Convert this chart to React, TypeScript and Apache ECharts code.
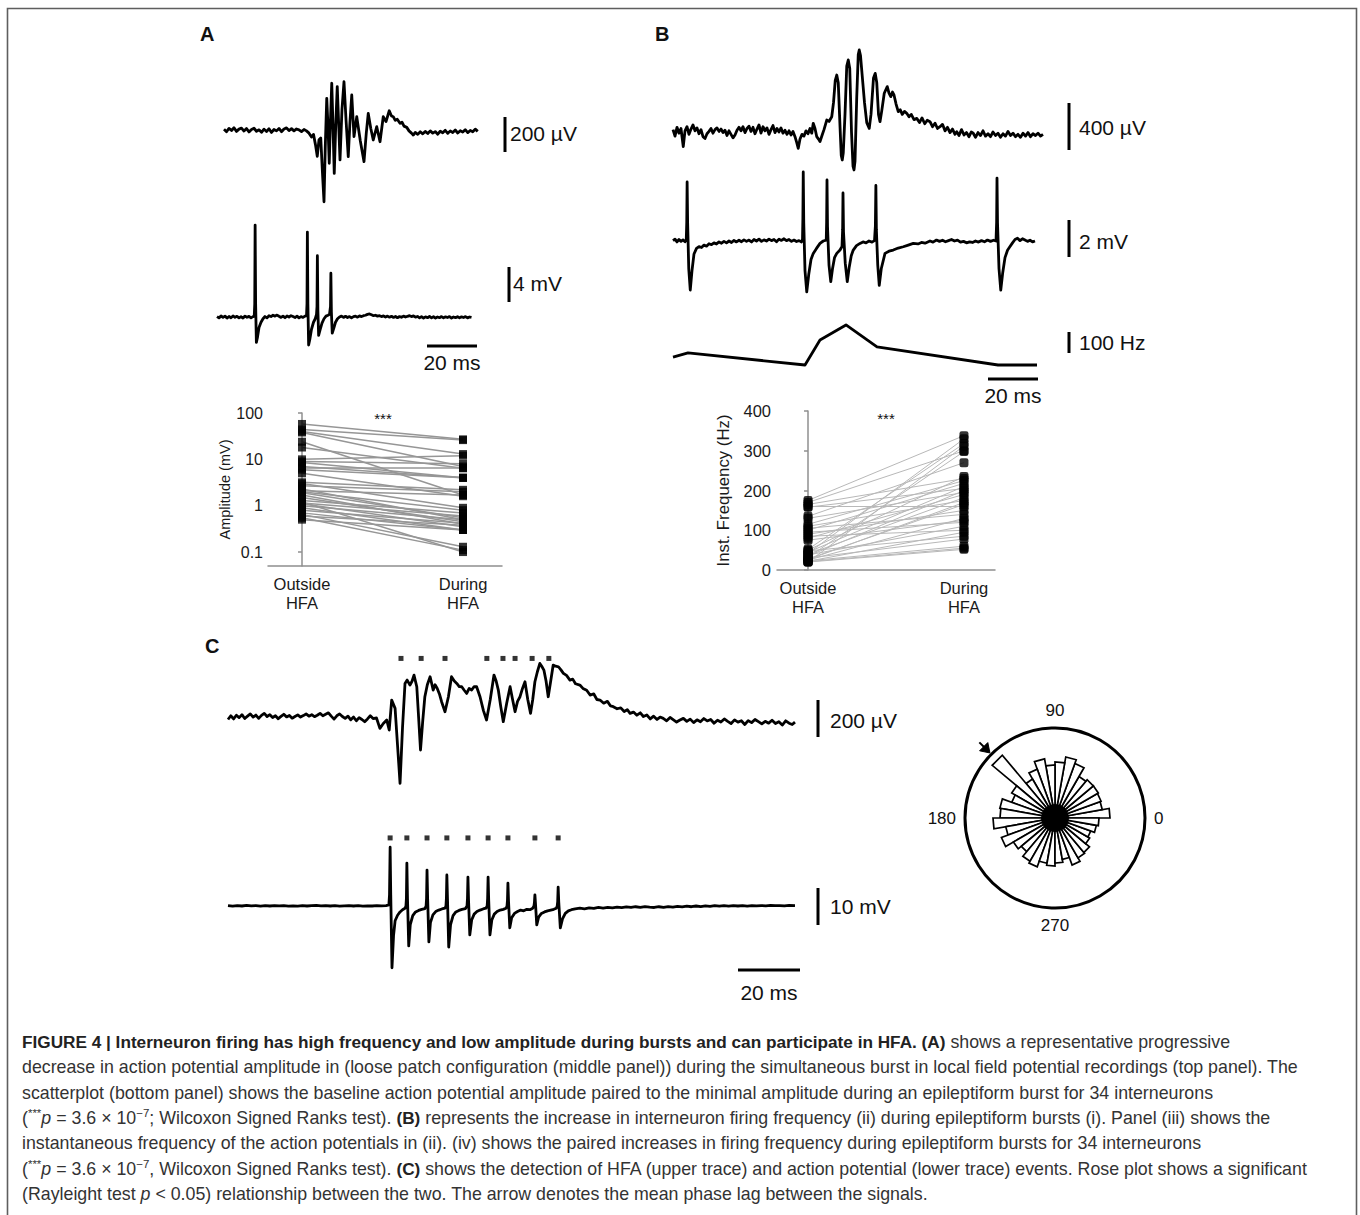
import React, { useEffect, useRef } from 'react';
import * as echarts from 'echarts';

// ---------- DATA ----------
// Panel A (i) LFP, [ms, µV]
const lfpA: number[][] = [
  [0,4],[1,-10],[2,9],[3,-3],[4,13],[5,-8],[6,5],[7,11],[8,-6],[9,8],[10,-11],[11,3],[12,10],[13,-7],[14,1],[15,-13],[16,5],[17,-9],[18,7],[19,-14],[20,3],[21,-5],[22,9],[23,-10],[24,6],[25,12],[26,-3],[27,8],[28,-5],[29,6],[30,1],[31,-9],[32,3],[33,-5],
  [34,-18],[35,-40],[35.8,-25],[36.6,-85],[37.3,-150],[38,-55],[38.7,-45],[39.4,-250],[40,-410],[40.5,-100],[41.1,181],[41.6,20],[42.1,-190],[42.6,60],[43.1,267],[43.6,20],[44.1,-248],[44.7,30],[45.3,248],[45.8,60],[46.4,-171],[47.2,120],[48,276],[48.8,60],[49.7,-152],[50.4,50],[51.1,200],[52,-38],[53.1,76],[54.5,-60],[56,-181],[56.9,-20],[57.7,95],[58.7,10],[59.7,-57],[61.1,19],[62.4,-67],[63.7,76],[64.8,48],[66.1,110],[67,80],[67.7,76],[68.5,55],[69.3,62],[70.4,38],[71.2,45],[72,22],[73.1,15],[74,-5],[75,-18],[75.7,-29],
  [76.5,-14],[77.5,-25],[78.5,-10],[79.5,-22],[80.5,-8],[81.5,-20],[82.5,-5],[83.5,-18],[84.5,-9],[85.5,-24],[86.5,-7],[87.5,-16],[88.5,-2],[89.5,-19],[90.5,-6],[91.5,-14],[92.5,0],[93.5,-17],[94.5,-4],[95.5,-12],[96.5,2],[97.5,-15],[98.5,-3],[99.5,-10],[100.5,5],[101.5,-8]
];
// Panel A (ii) loose-patch spikes, [ms, mV]
const spikeA: number[][] = [
  [0,0.05],[0.8,-0.1],[1.6,0.12],[2.4,-0.05],[3.2,0.1],[4,-0.12],[4.8,0.06],[5.6,-0.08],[6.4,0.12],[7.2,-0.04],[8,0.08],[8.8,-0.1],[9.6,0.03],[10.4,-0.12],[11.2,0.1],[12,-0.03],[12.8,0.07],[13.6,-0.1],[14.4,0.04],[14.9,0.1],
  [15.1,1.5],[15.25,10.5],[15.45,1.5],[15.75,-2.9],[16.2,-2.3],[16.8,-1.2],[17.6,-0.6],[18.4,-0.2],[19.2,0.05],[20,-0.1],[20.8,0.15],[21.6,0.05],[22.4,0.2],[23.2,0.1],[24,0.22],[24.8,0.08],[25.6,-0.05],[26.4,0.1],[27.2,-0.08],[28,0.12],[28.8,0],[29.6,0.15],[30.4,0.05],[31.2,-0.06],[32,0.1],[32.8,-0.1],[33.6,0.05],[34.4,-0.05],[35.2,0.1],[35.8,0.15],
  [36,1.5],[36.15,9.7],[36.35,1.5],[36.65,-3.2],[37.1,-2.6],[37.8,-1.4],[38.6,-0.6],[39.3,-0.2],[39.8,0.3],[40,1.2],[40.15,7.0],[40.35,0.8],[40.65,-2.1],[41.2,-1.5],[42,-0.7],[42.8,-0.2],[43.6,0.1],[44.4,0.2],[45,0.3],[45.4,1.2],[45.55,5.0],[45.75,0.6],[46.1,-1.85],[46.7,-1.3],[47.4,-0.6],[48.2,-0.2],[49,0],[49.8,0.1],
  [50.6,-0.05],[51.4,0.08],[52.2,-0.06],[53,0.05],[53.8,-0.1],[54.6,0.04],[55.4,0.1],[56.2,-0.02],[57,0.12],[57.8,0.05],[58.6,0.15],[59.4,0.2],[60.2,0.3],[61,0.35],[61.8,0.25],[62.6,0.15],[63.4,0.2],[64.2,0.1],[65,0.15],[65.8,0.05],[66.6,0.12],[67.4,0],[68.2,0.1],[69,-0.02],[69.8,0.08],[70.6,-0.05],[71.4,0.06],[72.2,-0.08],[73,0.05],[73.8,-0.03],[74.6,0.1],[75.4,0],[76.2,0.08],[77,0.15],[77.8,0.05],[78.6,0.12],[79.4,-0.02],[80.2,0.06],[81,-0.1],[81.8,0.04],[82.6,-0.12],[83.4,0.02],[84.2,-0.08],[85,0.06],[85.8,-0.1],[86.6,0.03],[87.4,-0.12],[88.2,0],[89,-0.08],[89.8,0.05],[90.6,-0.1],[91.4,0.02],[92.2,-0.06],[93,0.05],[93.8,-0.12],[94.6,0],[95.4,-0.08],[96.2,0.04],[97,-0.1],[97.8,0.02],[98.6,-0.06],[99.4,0.04],[100.2,-0.1],[101,0],[101.8,-0.05]
];
// Panel B (i) LFP, [ms, µV]
const lfpB: number[][] = [
  [0,20],[0.8,-35],[1.6,40],[2.4,-10],[3.2,30],[4.1,-125],[4.8,10],[5.6,45],[6.4,-20],[7.2,25],[8,60],[8.8,10],[9.6,35],[10.4,-15],[11.2,20],[12,-40],[12.8,-55],[13.6,-15],[14.4,5],[15.2,30],[16,-10],[16.8,20],[17.6,35],[18.4,5],[19.2,25],[20,-5],[20.8,15],[21.6,-30],[22.4,10],[23.2,-20],[24,-50],[24.8,-25],[25.6,15],[26.4,40],[27.2,10],[28,45],[28.8,-5],[29.6,30],[30.4,50],[31.2,5],[32,40],[32.8,-15],[33.6,25],[34.4,60],[35.2,-10],[36,45],[36.8,10],[37.6,35],[38.4,-20],[39.2,20],[40,55],[40.8,-5],[41.6,30],[42.4,0],[43.2,35],[44,-10],[44.8,15],[45.6,-20],[46.4,10],[47.2,-25],[48,5],[48.8,-40],[49.5,-90],[50.1,-139],[50.8,-60],[51.6,-20],[52.4,-35],[53.2,10],[54,-15],[54.8,30],[55.5,-10],[56.1,74],[56.8,30],[57.5,-40],[58.2,-60],[58.8,-82],[59.6,-30],[60.4,20],[61.5,102],[62.4,90],[63.5,130],
  [64.2,250],[64.9,440],[65.5,485],[66.1,420],[66.8,50],[67.3,-200],[67.7,-238],[68.1,-180],[68.8,150],[69.5,560],[70.1,613],[70.7,540],[71.4,0],[72,-290],[72.4,-323],[72.8,-250],[73.5,300],[74.1,660],[74.5,698],[75,650],[75.6,500],[76.6,250],[77.5,80],[78.5,31],[79.2,150],[80.2,460],[80.9,499],[81.5,420],[82.2,150],[82.8,88],[83.5,180],[84.5,330],[85.7,386],[86.4,330],[87.1,301],[87.8,340],[88.4,315],[89.2,240],[90.1,173],[90.9,190],[91.7,150],[92.6,175],[93.5,159],[94.4,130],[95.3,150],[96.4,105],[97.5,116],[98.6,80],[99.6,120],[100.7,70],[101.7,100],[102.8,88],[103.8,45],[104.8,75],[105.8,30],[106.8,45],[107.8,65],[108.8,10],[109.8,40],[110.8,-5],[111.8,25],[112.8,-20],[113.5,3],[114.4,-30],[115.4,20],[116.4,-25],[117.4,-5],[118.4,-40],[119.3,0],[120.1,-11],
  [121,-45],[122,-5],[123,-30],[124,10],[125,-35],[126,-15],[127,-40],[128,0],[129,-30],[130,-10],[131,-45],[132,-15],[133,-35],[134,5],[135,-30],[136,-10],[137,-40],[138,-20],[139,-45],[140,-10],[141,-35],[142,-5],[143,-40],[144,-15],[145,-30],[146,-10],[147,-35],[148,-20]
];
// Panel B (ii) spikes, [ms, mV]
const spikeB: number[][] = [
  [0,0.02],[0.8,0.1],[1.6,-0.05],[2.4,0.08],[3.2,-0.02],[4,0.06],[4.8,-0.04],[5.3,0.05],[5.5,1.0],[5.65,3.19],[5.85,1.0],[6.3,-1.5],[6.9,-2.65],[7.6,-1.6],[8.4,-0.7],[9.4,-0.4],[10.4,-0.3],[11.4,-0.35],[12.4,-0.22],[13.4,-0.28],[14.4,-0.15],[15.4,-0.2],[16.4,-0.1],[17.4,-0.16],[18.4,-0.05],[19.4,-0.12],[20.4,-0.02],[21.4,-0.1],[22.4,0],[23.4,-0.08],[24.4,0.03],[25.4,-0.05],[26.4,0.04],[27.4,-0.04],[28.4,0.06],[29.4,-0.02],[30.4,0.05],[31.4,-0.05],[32.4,0.08],[33.4,0],[34.4,0.1],[35.4,-0.02],[36.4,0.06],[37.4,0],[38.4,0.1],[39.4,0.02],[40.4,0.08],[41.4,-0.04],[42.4,0.1],[43.4,0.03],[44.4,0.12],[45.4,0.02],[46.4,0.08],[47.4,-0.02],[48.4,0.05],[49.4,-0.03],[50.4,0.02],[51.4,-0.05],[51.8,0.1],
  [51.95,1.2],[52.1,3.73],[52.3,1.0],[52.8,-1.6],[53.5,-2.75],[54.3,-1.8],[55.2,-1.0],[56.1,-0.67],[57.4,-0.4],[58.8,-0.13],[60.1,0],[61.3,0.05],[61.45,1.0],[61.6,3.3],[61.8,0.8],[62.4,-1.3],[63.1,-2.2],[63.8,-1.5],[64.6,-0.9],[65.5,-0.67],[66.8,-0.49],[67.6,-0.3],[67.85,0.6],[68,2.6],[68.2,0.5],[68.9,-1.2],[69.7,-2.2],[70.5,-1.4],[71.3,-0.8],[72.1,-0.49],[73.4,-0.25],[74.8,-0.13],[76,-0.05],[77.2,-0.1],[78.4,0],[79.6,-0.06],[80.6,0.02],[80.95,0.8],[81.15,3.0],[81.35,0.6],[81.9,-1.3],[82.5,-2.4],[83.3,-1.5],[84.8,-0.67],[86.4,-0.55],[88.1,-0.49],[90.1,-0.38],[92.1,-0.31],[94.1,-0.22],[96.1,-0.13],[98,-0.16],[99.4,-0.08],[100.8,-0.12],[102.8,0],[104,-0.06],[105.4,0.05],[106.6,-0.02],[107.8,0.04],[109,-0.04],[110.2,0.02],[111.4,0.08],[112.6,0],[113.8,0.05],[115,-0.06],[116.2,-0.02],[117.4,-0.1],[118.6,-0.05],[119.8,-0.08],[121,0],[122.2,-0.06],[123.4,0.02],[124.6,-0.04],[125.8,0.05],[127,-0.02],[128.2,0.04],[129.2,0],
  [129.45,1.0],[129.6,3.4],[129.8,1.0],[130.4,-1.5],[131.1,-2.65],[131.9,-1.7],[132.8,-0.9],[133.8,-0.5],[134.8,-0.3],[135.8,-0.1],[136.8,0.08],[137.8,0.15],[138.8,0.02],[139.8,0.12],[140.8,0.05],[141.8,-0.02],[142.8,0.04],[143.8,-0.05],[144.8,0]
];
// Panel B (iii) instantaneous frequency, [ms, Hz]
const freqB: number[][] = [[0,56],[6,75],[52.8,20],[58.8,134],[69.2,202],[81.6,102],[130,20],[145.6,20]];

// Panel C upper LFP, [ms, µV]
const lfpC: number[][] = [
  [0,-8],[0.9,12],[1.8,-5],[2.7,15],[3.6,2],[4.5,18],[5.4,-3],[6.3,10],[7.2,22],[8.1,5],[9,16],[9.9,-2],[10.8,14],[11.7,25],[12.6,8],[13.5,18],[14.4,3],[15.3,12],[16.2,-4],[17.1,9],[18,20],[18.9,6],[19.8,14],[20.7,-1],[21.6,8],[22.5,17],[23.4,5],[24.3,13],[25.2,22],[26.1,10],[27,18],[27.9,7],[28.8,15],[29.7,25],[30.6,12],[31.5,20],[32.4,28],[33.3,10],[34.2,-6],[35.1,12],[36,22],[36.9,8],[37.8,-2],[38.7,10],[39.6,-10],[40.5,5],[41.4,-15],[42.3,2],[43.2,-8],[44.1,-20],[45,-5],[45.9,12],[46.8,-3],[47.9,0],
  [49,-56],[50.1,-30],[51.2,-11],[52,-65],[52.8,97],[53.9,52],[54.7,-150],[55.5,-353],[56.3,-50],[57.1,187],[57.8,205],[58.7,178],[59.4,200],[60,232],[60.9,169],[61.5,0],[62.1,-173],[62.8,-20],[63.5,115],[64.3,180],[65.2,223],[66.2,151],[66.8,180],[67.5,160],[68.2,130],[68.9,88],[70,34],[71.1,115],[72.1,223],[73,200],[73.8,187],[74.6,170],[75.4,169],[76.2,150],[77,133],[77.8,160],[78.6,151],[79.4,170],[80.2,169],[81.3,115],[82.4,40],[83.4,-11],[84.6,100],[85.8,232],[86.5,200],[87.2,151],[88,60],[88.8,-20],[89.9,80],[91,169],[91.8,100],[92.6,34],[93.4,90],[94.2,115],[95,160],[95.8,196],[96.7,100],[97.6,25],[98.3,100],[99,196],[99.8,250],[100.6,295],[101.2,280],[101.9,259],[102.6,200],[103.3,115],[104.1,200],[104.9,286],[105.7,280],[106.6,277],[107.4,260],[108.2,241],[109.2,230],[110.3,205],[111.2,210],[112.1,185],[113.5,178],[114.5,160],[115.7,150],[116.8,124],[118,130],[119,100],[120,97],[121.2,80],[122.4,90],[123.4,65],[124.3,61],[125.5,50],[126.7,55],[127.8,35],[128.8,45],[129.7,25],[130.8,32],[131.9,15],[133,28],[134,8],[135.1,16],[136.2,-5],[137.3,10],[138.4,-8],[139.4,5],[140.4,-2],[141.5,-15],[142.6,3],[143.7,-10],[144.7,-22],[145.8,-11],[146.9,-2],[148,-18],[149.1,-6],[150.2,-25],[151.3,-10],[152.4,-20],[153.5,-3],[154.6,-16],[155.7,-8],[156.8,-28],[157.9,-12],[159,-22],[160.1,-5],[161.2,-18],[162.3,-30],[163.4,-10],[164.5,-22],[165.6,-15],[166.7,-35],[167.8,-14],[168.9,-25],[170,-8],[171.1,-20],[172.2,-32],[173.3,-18],[174.4,-28],[175.5,-12],[176.6,-30],[177.7,-20],[178.8,-38],[179.9,-15],[181,-28],[182,-35],[182.9,-22]
];
// HFA event times (upper trace dots), ms
const hfaEvents: number[] = [55.8, 62.3, 70.0, 83.5, 88.7, 92.6, 98.1, 103.5];
// Panel C lower spikes, [ms, mV]
const spikeC: number[][] = [
  [0,0.1],[1.5,-0.05],[3,0.12],[4.5,0],[6,0.15],[7.5,0.05],[9,0.1],[10.5,-0.05],[12,0.08],[13.5,0],[15,0.12],[16.5,0.02],[18,0.1],[19.5,-0.06],[21,0.05],[22.5,-0.02],[24,0.1],[25.5,0],[27,0.12],[28.5,0.18],[30,0.05],[31.5,0.12],[33,0],[34.5,0.08],[36,-0.04],[37.5,0.05],[39,0.1],[40.5,0],[42,0.08],[43.5,-0.05],[45,0.06],[46.5,0],[48,0.1],[49.5,0.05],[51,0.12],[51.9,0.3],
  [52.1,3],[52.3,15.9],[52.5,3],[52.9,-16.7],[53.4,-8],[53.9,-4],[54.7,-2.5],[55.5,-1.6],[56.3,-1.0],[57.1,-0.6],[57.4,0],
  [57.55,2],[57.7,11.6],[57.9,2],[58.3,-10.8],[58.8,-5],[59.6,-2.6],[60.5,-1.6],[61.5,-1.2],[62.5,-0.9],[63.5,-0.7],[63.9,0],
  [64.05,2],[64.2,9.7],[64.4,2],[64.8,-9.7],[65.3,-4.5],[66.1,-2.4],[67,-1.5],[68,-1.1],[69,-0.8],[70,-0.6],[70.3,0],
  [70.45,2],[70.6,8.4],[70.8,2],[71.2,-11.1],[71.8,-5],[72.6,-2.6],[73.5,-1.6],[74.5,-1.2],[75.5,-0.9],[76.6,-0.7],[77.1,0],
  [77.25,2],[77.4,7.8],[77.6,1.5],[78,-7.8],[78.6,-3.8],[79.4,-2.2],[80.3,-1.5],[81.3,-1.1],[82.3,-0.8],[83.2,-0.6],[83.6,0],
  [83.75,2],[83.9,7.8],[84.1,1.5],[84.5,-7.8],[85.1,-3.8],[85.9,-2.2],[86.8,-1.5],[87.8,-1.1],[88.8,-0.9],[89.7,-0.6],[90,0],
  [90.15,1.5],[90.3,6.2],[90.5,1.2],[90.9,-5.9],[91.5,-3.2],[92.4,-2.0],[93.4,-1.5],[94.4,-1.1],[95.4,-1.3],[96.4,-0.9],[97.4,-1.0],[98.3,-0.6],[98.7,0],
  [98.85,1],[99,3.0],[99.2,0.5],[99.6,-5.1],[100.2,-3.0],[101.1,-2.0],[102.1,-1.6],[103.1,-1.3],[104.1,-1.1],[105.1,-0.9],[105.9,-0.6],[106.2,0],
  [106.35,1.2],[106.5,5.1],[106.7,1.0],[107.2,-5.9],[107.9,-3.5],[108.8,-2.0],[109.8,-1.3],[110.8,-1.0],[112,-0.8],
  [113.5,-0.6],[115,-0.75],[116.5,-0.5],[118,-0.65],[119.5,-0.4],[121,-0.55],[122.5,-0.35],[124,-0.5],[125.5,-0.3],[127,-0.45],[128.5,-0.25],[130,-0.4],[131.5,-0.2],[133,-0.35],[134.5,-0.15],[136,-0.3],[137.5,-0.4],[139,-0.2],[140.5,-0.35],[142,-0.15],[143.5,-0.3],[145,-0.1],[146.5,-0.25],[148,-0.05],[149.5,-0.2],[151,0],[152.5,-0.15],[154,0.05],[155.5,-0.1],[157,0.08],[158.5,-0.05],[160,0.1],[161.5,-0.02],[163,0.12],[164.5,0],[166,0.1],[167.5,-0.05],[169,0.08],[170.5,0.02],[172,0.12],[173.5,0.05],[175,0.15],[176.5,0.08],[178,0.12],[179.5,0.05],[181,0.15],[182.9,0.1]
];
// AP event times (lower trace dots), ms
const apEvents: number[] = [52.3, 57.7, 64.2, 70.6, 77.4, 83.9, 90.3, 99.0, 106.5];

// Panel A scatter: amplitude (mV), paired
const ampOutside: number[] = [58, 44, 40, 38, 24, 18, 10, 9, 8.5, 7, 6.5, 6, 5, 3.2, 3, 2.7, 2.3, 2.1, 2, 1.9, 1.7, 1.5, 1.3, 1.2, 1.15, 1.1, 1.0, 0.9, 0.8, 0.7, 0.65, 0.6, 0.55, 0.5];
const ampDuring: number[]  = [27, 26, 13, 7, 1.7, 6.4, 12, 8, 4, 4, 6.5, 4, 1.6, 2.2, 0.9, 2, 0.5, 1.7, 0.8, 0.55, 0.4, 0.45, 0.7, 0.1, 0.6, 0.35, 0.5, 0.3, 0.42, 0.3, 0.13, 0.38, 0.11, 0.3];
// Panel B scatter: instantaneous frequency (Hz), paired
const freqOutside: number[] = [175, 170, 165, 160, 158, 135, 130, 115, 110, 105, 100, 95, 90, 85, 80, 75, 52, 50, 48, 45, 42, 40, 38, 35, 32, 30, 28, 26, 25, 23, 22, 21, 20, 20];
const freqDuring: number[]  = [338, 300, 230, 160, 205, 270, 195, 225, 175, 140, 218, 120, 150, 100, 190, 125, 318, 235, 85, 210, 330, 182, 110, 200, 298, 78, 165, 170, 130, 60, 95, 55, 312, 52];
const pairCategories: string[] = ['Outside\nHFA', 'During\nHFA'];
const ampTicks: number[] = [0.1, 1, 10, 100];

// Rose plot: bin centres (deg) and counts
const roseAngles: number[] = [5, 15, 25, 35, 45, 55, 65, 75, 85, 95, 105, 115, 125, 135, 145, 155, 165, 175, 185, 195, 205, 215, 225, 235, 245, 255, 265, 275, 285, 295, 305, 315, 325, 335, 345, 355];
const roseCounts: number[] = [55, 48, 49, 50, 50, 48, 58, 62, 56, 53, 60, 52, 45, 82, 50, 46, 56, 55, 62, 50, 57, 48, 44, 50, 52, 46, 48, 45, 42, 50, 46, 45, 40, 38, 42, 44];
const meanPhase = 135;

// ---------- LAYOUT ----------
const FONT = '"Liberation Sans", Arial, Helvetica, sans-serif';

type TraceLayout = { x0: number; pxPerMs: number; tMax: number; baseY: number; pxPerUnit: number; yMin: number; yMax: number };
const traces: { data: number[][]; lay: TraceLayout }[] = [
  { data: lfpA,   lay: { x0: 224, pxPerMs: 2.5, tMax: 102, baseY: 130, pxPerUnit: 35 / 200, yMin: -500, yMax: 500 } },
  { data: spikeA, lay: { x0: 217, pxPerMs: 2.5, tMax: 102, baseY: 317, pxPerUnit: 35 / 4, yMin: -12, yMax: 12 } },
  { data: lfpB,   lay: { x0: 673, pxPerMs: 2.5, tMax: 148, baseY: 132, pxPerUnit: 47 / 400, yMin: -800, yMax: 800 } },
  { data: spikeB, lay: { x0: 673, pxPerMs: 2.5, tMax: 146, baseY: 241, pxPerUnit: 37 / 2, yMin: -4, yMax: 4 } },
  { data: freqB,  lay: { x0: 673, pxPerMs: 2.5, tMax: 146, baseY: 369.4, pxPerUnit: 22 / 100, yMin: -20, yMax: 300 } },
  { data: lfpC,   lay: { x0: 228, pxPerMs: 3.1, tMax: 183, baseY: 718, pxPerUnit: 37 / 200, yMin: -450, yMax: 450 } },
  { data: spikeC, lay: { x0: 228, pxPerMs: 3.1, tMax: 183, baseY: 906, pxPerUnit: 37 / 10, yMin: -20, yMax: 22 } },
];

function buildOption() {
  const grid: any[] = [];
  const xAxis: any[] = [];
  const yAxis: any[] = [];
  const series: any[] = [];

  traces.forEach((tr, i) => {
    const L = tr.lay;
    grid.push({ left: L.x0, top: L.baseY - L.yMax * L.pxPerUnit, width: L.tMax * L.pxPerMs, height: (L.yMax - L.yMin) * L.pxPerUnit, containLabel: false });
    xAxis.push({ gridIndex: i, type: 'value', min: 0, max: L.tMax, show: false });
    yAxis.push({ gridIndex: i, type: 'value', min: L.yMin, max: L.yMax, show: false });
    series.push({ type: 'line', xAxisIndex: i, yAxisIndex: i, data: tr.data, symbol: 'none', clip: false, silent: true,
      lineStyle: { color: '#000', width: 2.8, join: 'round' } });
  });
  // event dots
  series.push({ type: 'scatter', xAxisIndex: 5, yAxisIndex: 5, data: hfaEvents.map(t => [t, 322]), symbol: 'rect', symbolSize: 5, itemStyle: { color: '#000' }, silent: true });
  series.push({ type: 'scatter', xAxisIndex: 6, yAxisIndex: 6, data: apEvents.map(t => [t, 18.4]), symbol: 'rect', symbolSize: 5, itemStyle: { color: '#000' }, silent: true });

  const axisGray = '#8f8f8f';
  const catLabel = {
    customValues: [0, 1], formatter: (v: number) => pairCategories[Math.round(v)] ?? '',
    fontFamily: FONT, fontSize: 16.5, color: '#1a1a1a', lineHeight: 19, margin: 8,
  };
  // Scatter A (log)
  const gA = grid.length;
  grid.push({ left: 268, top: 413, width: 234, height: 153, containLabel: false });
  xAxis.push({ gridIndex: gA, type: 'value', min: -0.211, max: 1.242, axisLine: { lineStyle: { color: axisGray, width: 1.5 } }, axisTick: { show: false }, splitLine: { show: false }, axisLabel: catLabel });
  yAxis.push({ gridIndex: gA, type: 'log', min: 0.05, max: 100, logBase: 10,
    name: 'Amplitude (mV)', nameLocation: 'middle', nameGap: 34, nameRotate: 90, nameTextStyle: { fontFamily: FONT, fontSize: 14.5, color: '#1a1a1a' },
    axisLine: { show: true, lineStyle: { color: axisGray, width: 1.5 } },
    axisTick: { show: true, length: 4, customValues: ampTicks, lineStyle: { color: axisGray, width: 1.5 } },
    axisLabel: { customValues: ampTicks, formatter: (v: number) => (v >= 1 ? String(Math.round(v)) : '0.1'), fontFamily: FONT, fontSize: 16, color: '#1a1a1a', margin: 5 },
    splitLine: { show: false } });
  series.push({ type: 'lines', coordinateSystem: 'cartesian2d', xAxisIndex: gA, yAxisIndex: gA, silent: true,
    data: ampOutside.map((a, i) => ({ coords: [[0, a], [1, ampDuring[i]]] })), lineStyle: { color: '#969696', width: 1.5, opacity: 1 } });
  series.push({ type: 'scatter', xAxisIndex: gA, yAxisIndex: gA, data: ampOutside.map(a => [0, a]), symbol: 'rect', symbolSize: 8, itemStyle: { color: '#000' }, silent: true });
  series.push({ type: 'scatter', xAxisIndex: gA, yAxisIndex: gA, data: ampDuring.map(a => [1, a]), symbol: 'rect', symbolSize: 8, itemStyle: { color: '#000' }, silent: true });

  // Scatter B (linear)
  const gB = grid.length;
  grid.push({ left: 777, top: 411, width: 218, height: 159, containLabel: false });
  xAxis.push({ gridIndex: gB, type: 'value', min: -0.199, max: 1.199, axisLine: { lineStyle: { color: axisGray, width: 1.5 } }, axisTick: { show: false }, splitLine: { show: false }, axisLabel: catLabel });
  yAxis.push({ gridIndex: gB, type: 'value', min: 0, max: 400, interval: 100,
    name: 'Inst. Frequency (Hz)', nameLocation: 'middle', nameGap: 45, nameRotate: 90, nameTextStyle: { fontFamily: FONT, fontSize: 16.8, color: '#1a1a1a' },
    axisLine: { show: true, lineStyle: { color: axisGray, width: 1.5 } },
    axisTick: { show: true, length: 4, lineStyle: { color: axisGray, width: 1.5 } },
    axisLabel: { fontFamily: FONT, fontSize: 16.5, color: '#1a1a1a', margin: 6 },
    splitLine: { show: false } });
  series.push({ type: 'lines', coordinateSystem: 'cartesian2d', xAxisIndex: gB, yAxisIndex: gB, silent: true,
    data: freqOutside.map((a, i) => ({ coords: [[0, a], [1, freqDuring[i]]] })), lineStyle: { color: '#b8b8b8', width: 1, opacity: 1 } });
  series.push({ type: 'scatter', xAxisIndex: gB, yAxisIndex: gB, data: freqOutside.map(a => [0, a]), symbol: 'roundRect', symbolSize: 9, itemStyle: { color: '#000' }, silent: true });
  series.push({ type: 'scatter', xAxisIndex: gB, yAxisIndex: gB, data: freqDuring.map(a => [1, a]), symbol: 'roundRect', symbolSize: 9, itemStyle: { color: '#000' }, silent: true });

  // Rose plot (polar)
  series.push({ type: 'custom', coordinateSystem: 'polar', silent: true,
    data: roseAngles.map((a, i) => [roseCounts[i], a]),
    renderItem: (_p: any, api: any) => {
      const r = api.value(0); const a = api.value(1);
      const c = api.coord([0, a]); const p1 = api.coord([r, a - 5]); const p2 = api.coord([r, a + 5]);
      return { type: 'polygon', shape: { points: [c, p1, p2] }, style: { fill: '#fff', stroke: '#000', lineWidth: 1.7, lineJoin: 'miter' } };
    } });
  series.push({ type: 'custom', coordinateSystem: 'polar', silent: true, z: 5,
    data: [[14, 0]],
    renderItem: (_p: any, api: any) => {
      const c = api.coord([0, 0]); const e = api.coord([api.value(0), 0]);
      return { type: 'circle', shape: { cx: c[0], cy: c[1], r: Math.abs(e[0] - c[0]) }, style: { fill: '#000' } };
    } });
  series.push({ type: 'custom', coordinateSystem: 'polar', silent: true, z: 5,
    data: [[92, meanPhase]],
    renderItem: (_p: any, api: any) => {
      const r = api.value(0); const a = api.value(1);
      const tip = api.coord([r, a]); const b1 = api.coord([r + 9, a - 3.3]); const b2 = api.coord([r + 9, a + 3.3]);
      const t0 = api.coord([r + 8, a]); const t1 = api.coord([r + 15, a]);
      return { type: 'group', children: [
        { type: 'polygon', shape: { points: [tip, b1, b2] }, style: { fill: '#000', stroke: '#000', lineWidth: 1 } },
        { type: 'line', shape: { x1: t0[0], y1: t0[1], x2: t1[0], y2: t1[1] }, style: { stroke: '#000', lineWidth: 2 } },
      ] };
    } });

  // graphic: border, letters, scale bars, caption
  const graphic: any[] = [];
  graphic.push({ type: 'rect', shape: { x: 7.5, y: 8.5, width: 1349, height: 1230 }, style: { fill: 'none', stroke: '#5e5e5e', lineWidth: 1.6 }, silent: true });
  const txt = (x: number, y: number, text: string, size: number, opts: any = {}) => ({
    type: 'text', x, y, silent: true,
    style: { text, fontFamily: FONT, fontSize: size, fill: '#111', align: 'left', verticalAlign: 'middle', ...opts },
  });
  const bar = (x1: number, y1: number, x2: number, y2: number) => ({ type: 'line', silent: true, shape: { x1, y1, x2, y2 }, style: { stroke: '#000', lineWidth: 3 } });
  graphic.push(txt(200, 34, 'A', 20, { fontWeight: 'bold' }));
  graphic.push(txt(655, 34, 'B', 20, { fontWeight: 'bold' }));
  graphic.push(txt(205, 646, 'C', 20, { fontWeight: 'bold' }));
  // A scale bars
  graphic.push(bar(505, 117, 505, 152), txt(510, 133, '200 µV', 21));
  graphic.push(bar(509, 267, 509, 302), txt(513, 283, '4 mV', 21));
  graphic.push(bar(427, 346, 477, 346), txt(452, 362, '20 ms', 21, { align: 'center' }));
  // B scale bars
  graphic.push(bar(1069, 103, 1069, 150), txt(1079, 127, '400 µV', 21));
  graphic.push(bar(1069, 220, 1069, 257), txt(1079, 241, '2 mV', 21));
  graphic.push(bar(1069, 332, 1069, 353), txt(1079, 342, '100 Hz', 21));
  graphic.push(bar(988, 379, 1038, 379), txt(1013, 395, '20 ms', 21, { align: 'center' }));
  // C scale bars
  graphic.push(bar(818, 700, 818, 737), txt(830, 720, '200 µV', 21));
  graphic.push(bar(818, 888, 818, 925), txt(830, 906, '10 mV', 21));
  graphic.push(bar(738, 970, 800, 970), txt(769, 992, '20 ms', 21, { align: 'center' }));
  // significance
  graphic.push(txt(383, 418, '***', 15, { align: 'center' }));
  graphic.push(txt(886, 418, '***', 15, { align: 'center' }));

  // caption
  const CAP = 17.8;
  const capRich = {
    b: { fontWeight: 'bold', fontFamily: FONT, fontSize: 17.2, fill: '#222', lineHeight: 22 },
    i: { fontStyle: 'italic', fontFamily: FONT, fontSize: CAP, fill: '#333', lineHeight: 22 },
    s: { fontFamily: FONT, fontSize: 11.5, fill: '#333', lineHeight: 22, verticalAlign: 'top' },
  };
  const capLines: string[] = [
    '{b|FIGURE 4 | Interneuron firing has high frequency and low amplitude during bursts and can participate in HFA. (A)} shows a representative progressive',
    'decrease in action potential amplitude in (loose patch configuration (middle panel)) during the simultaneous burst in local field potential recordings (top panel). The',
    'scatterplot (bottom panel) shows the baseline action potential amplitude paired to the minimal amplitude during an epileptiform burst for 34 interneurons',
    '({s|***}{i|p} = 3.6 × 10{s|−7}; Wilcoxon Signed Ranks test). {b|(B)} represents the increase in interneuron firing frequency (ii) during epileptiform bursts (i). Panel (iii) shows the',
    'instantaneous frequency of the action potentials in (ii). (iv) shows the paired increases in firing frequency during epileptiform bursts for 34 interneurons',
    '({s|***}{i|p} = 3.6 × 10{s|−7}, Wilcoxon Signed Ranks test). {b|(C)} shows the detection of HFA (upper trace) and action potential (lower trace) events. Rose plot shows a significant',
    '(Rayleight test {i|p} < 0.05) relationship between the two. The arrow denotes the mean phase lag between the signals.',
  ];
  capLines.forEach((line, k) => {
    graphic.push({ type: 'text', x: 22, y: 1042 + k * 25.3, silent: true,
      style: { text: line, fontFamily: FONT, fontSize: CAP, fill: '#333', lineHeight: 22, align: 'left', verticalAlign: 'middle', rich: capRich } });
  });

  return {
    animation: false,
    backgroundColor: '#fff',
    textStyle: { fontFamily: FONT },
    grid, xAxis, yAxis,
    polar: { center: [1055, 818], radius: 90 },
    angleAxis: { type: 'value', min: 0, max: 360, interval: 90, startAngle: 0, clockwise: false,
      axisLine: { show: true, lineStyle: { color: '#000', width: 3 } }, axisTick: { show: false }, splitLine: { show: false },
      axisLabel: { show: true, margin: 9, fontFamily: FONT, fontSize: 17, color: '#111', formatter: (v: number) => (v >= 360 ? '' : String(v)) } },
    radiusAxis: { type: 'value', min: 0, max: 90, axisLine: { show: false }, axisTick: { show: false }, axisLabel: { show: false }, splitLine: { show: false } },
    series,
    graphic,
  };
}

export default function App() {
  const ref = useRef<HTMLDivElement>(null);
  useEffect(() => {
    if (!ref.current) return;
    const chart = echarts.init(ref.current, undefined, { renderer: 'svg' });
    chart.setOption(buildOption() as any);
    return () => chart.dispose();
  }, []);
  return <div ref={ref} style={{ position: 'absolute', left: 0, top: 0, width: 1360, height: 1215, background: '#fff' }} />;
}
